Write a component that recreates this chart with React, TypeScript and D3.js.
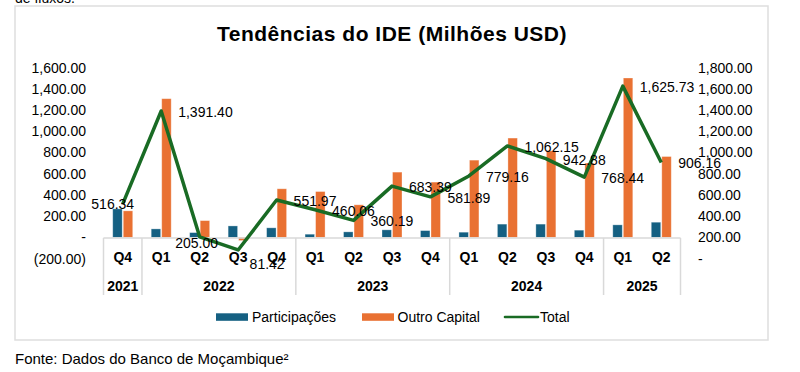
import React from "react";
import * as d3 from "d3";

const quarters = ["Q4", "Q1", "Q2", "Q3", "Q4", "Q1", "Q2", "Q3", "Q4", "Q1", "Q2", "Q3", "Q4", "Q1", "Q2"];
const years = ["2021", "2022", "2022", "2022", "2022", "2023", "2023", "2023", "2023", "2024", "2024", "2024", "2024", "2025", "2025"];
const participacoes = [269, 80, 45, 108, 90, 30, 52, 71, 64, 49, 125, 125, 68, 118, 143];
const outroCapital = [250, 1307, 158, -30, 458, 432, 307, 615, 521, 728, 936, 816, 700, 1502, 762];
const total = [516.34, 1391.4, 205.0, 81.42, 551.97, 460.06, 360.19, 683.39, 581.89, 779.16, 1062.15, 942.88, 768.44, 1625.73, 906.16];
const leftTicks = [-200, 0, 200, 400, 600, 800, 1000, 1200, 1400, 1600];
const rightTicks = [0, 200, 400, 600, 800, 1000, 1200, 1400, 1600, 1800];
const seriesNames = ["Participações", "Outro Capital", "Total"];

const BLUE = "#156082";
const ORANGE = "#E97132";
const GREEN = "#196B24";
const FONT = "'Liberation Sans', Arial, sans-serif";

export default function App() {
  const W = 800, H = 372;
  const x0 = 103.5, x1 = 680.5;
  const idx = quarters.map((_, i) => String(i));
  const x = d3.scaleBand<string>().domain(idx).range([x0, x1]).padding(0);
  const yL = d3.scaleLinear().domain([-200, 1600]).range([258.6, 67.6]);
  const yR = d3.scaleLinear().domain([0, 1800]).range([258.6, 67.6]);
  const inner = d3.scaleBand<string>().domain(["p", "o"]).range([0, 20]).paddingInner(0.1);
  const fmt = d3.format(",.2f");
  const axFmt = (v: number) => (v === 0 ? "-" : v < 0 ? `(${fmt(-v)})` : fmt(v));
  const cx = (i: number) => (x(String(i)) as number) + x.bandwidth() / 2;
  const zeroY = yL(0);

  const line = d3
    .line<number>()
    .x((_, i) => cx(i))
    .y((d) => yR(d));

  const groups: { year: string; start: number; end: number }[] = [];
  years.forEach((yv, i) => {
    const g = groups[groups.length - 1];
    if (g && g.year === yv) g.end = i;
    else groups.push({ year: yv, start: i, end: i });
  });

  const labelPlace: Record<number, { dx: number; dy: number; anchor: string }> = {
    0: { dx: -10, dy: 5, anchor: "middle" },
    2: { dx: -3, dy: 11, anchor: "middle" },
    3: { dx: 29, dy: 19, anchor: "middle" },
  };

  return (
    <svg width={W} height={H} style={{ position: "absolute", left: 0, top: 0, background: "#fff" }} fontFamily={FONT}>
      <rect x={0} y={0} width={W} height={H} fill="#fff" />
      <text x={15} y={3} fontSize={14} fill="#000">de fluxos.</text>
      <rect x={15} y={6} width={753} height={334} fill="#fff" stroke="#dedede" strokeWidth={1.5} />
      <text x={392} y={41} textAnchor="middle" fontSize={21} fontWeight="bold" letterSpacing={0.5} fill="#000">
        Tendências do IDE (Milhões USD)
      </text>

      {leftTicks.map((t) => (
        <text key={"l" + t} x={86} y={yL(t) + 5} textAnchor="end" fontSize={14} fill="#000">
          {axFmt(t)}
        </text>
      ))}
      {rightTicks.map((t) => (
        <text key={"r" + t} x={698} y={yR(t) + 5} textAnchor="start" fontSize={14} fill="#000">
          {axFmt(t)}
        </text>
      ))}

      {participacoes.map((v, i) => (
        <rect
          key={"p" + i}
          x={cx(i) - 10 + (inner("p") as number)}
          width={inner.bandwidth()}
          y={Math.min(yL(v), zeroY)}
          height={Math.abs(yL(v) - zeroY)}
          fill={BLUE}
          stroke="#ffffff"
          strokeOpacity={0.4}
          strokeWidth={0.8}
        />
      ))}
      {outroCapital.map((v, i) => (
        <rect
          key={"o" + i}
          x={cx(i) - 10 + (inner("o") as number)}
          width={inner.bandwidth()}
          y={Math.min(yL(v), zeroY)}
          height={Math.abs(yL(v) - zeroY)}
          fill={ORANGE}
          stroke="#ffffff"
          strokeOpacity={0.4}
          strokeWidth={0.8}
        />
      ))}

      <line x1={x0} x2={x1} y1={zeroY + 0.5} y2={zeroY + 0.5} stroke="#d9d9d9" strokeWidth={1.5} />
      {[0, ...groups.map((g) => g.end + 1)].map((b, k) => {
        const xx = b === 0 ? x0 : b >= quarters.length ? x1 : (x(String(b)) as number);
        return <line key={"v" + k} x1={xx} x2={xx} y1={zeroY + 0.5} y2={295} stroke="#d9d9d9" strokeWidth={1.5} />;
      })}
      {quarters.map((q, i) => (
        <text key={"q" + i} x={cx(i)} y={261.5} textAnchor="middle" fontSize={14} fontWeight="bold" fill="#000">
          {q}
        </text>
      ))}
      {groups.map((g) => {
        const a = x(String(g.start)) as number;
        const b = (x(String(g.end)) as number) + x.bandwidth();
        return (
          <text key={"y" + g.year} x={(a + b) / 2} y={290.5} textAnchor="middle" fontSize={14} fontWeight="bold" fill="#000">
            {g.year}
          </text>
        );
      })}

      <path d={line(total) || ""} fill="none" stroke={GREEN} strokeWidth={3.5} strokeLinejoin="round" />
      {total.map((v, i) => {
        const p = labelPlace[i] || { dx: 17, dy: 6, anchor: "start" };
        return (
          <text key={"t" + i} x={cx(i) + p.dx} y={yR(v) + p.dy} textAnchor={p.anchor} fontSize={14} fill="#000">
            {fmt(v)}
          </text>
        );
      })}

      <rect x={216} y={313.3} width={32} height={7.5} fill={BLUE} />
      <text x={252} y={321.5} fontSize={14} fill="#000">{seriesNames[0]}</text>
      <rect x={362} y={313.3} width={32} height={7.5} fill={ORANGE} />
      <text x={397.5} y={321.5} fontSize={14} fill="#000">{seriesNames[1]}</text>
      <line x1={505} x2={538} y1={317} y2={317} stroke={GREEN} strokeWidth={2.6} strokeLinecap="round" />
      <text x={540} y={321.5} fontSize={14} fill="#000">{seriesNames[2]}</text>

      <text x={15} y={364} fontSize={15} fill="#000">
        Fonte: Dados do Banco de Moçambique²
      </text>
    </svg>
  );
}
